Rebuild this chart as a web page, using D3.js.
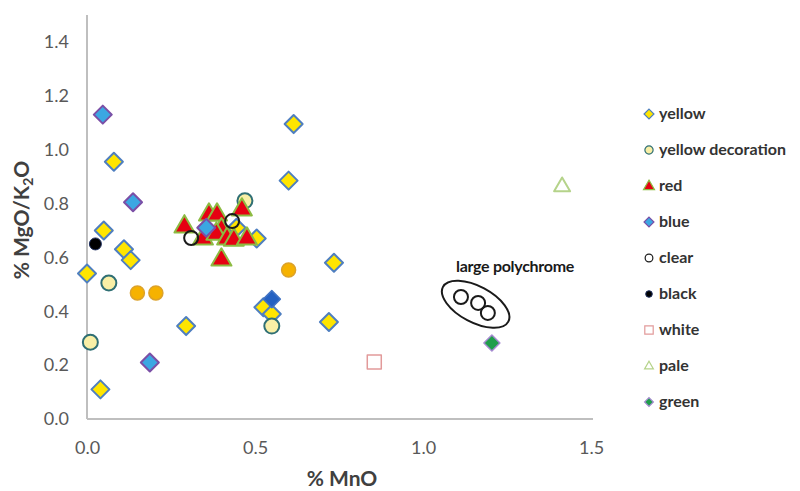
<!DOCTYPE html>
<html>
<head>
<meta charset="utf-8">
<script src="https://cdn.jsdelivr.net/npm/d3@7/dist/d3.min.js"></script>
<style>
  html, body { margin: 0; padding: 0; background: #fff; }
  svg { display: block; }
</style>
</head>
<body>
<svg id="chart" width="800" height="491"></svg>
<script>
// Glass composition: MgO/K2O ratio against MnO content, grouped by colour
const yellow = [
  [0.04, 0.11], [0.00, 0.54], [0.11, 0.63], [0.13, 0.59], [0.05, 0.70],
  [0.08, 0.955], [0.295, 0.345], [0.615, 1.095], [0.60, 0.885], [0.735, 0.58],
  [0.72, 0.36], [0.525, 0.415], [0.55, 0.39], [0.505, 0.67], [0.445, 0.71]
];
const yellowDecoration = [
  [0.01, 0.285], [0.065, 0.505], [0.55, 0.345], [0.47, 0.81]
];
const orange = [
  [0.15, 0.468], [0.205, 0.468], [0.60, 0.553]
];
const red = [
  [0.29, 0.717], [0.345, 0.672], [0.363, 0.761], [0.387, 0.761], [0.40, 0.706],
  [0.385, 0.69], [0.417, 0.672], [0.437, 0.668], [0.476, 0.672], [0.461, 0.78],
  [0.40, 0.594]
];
const blue = [
  [0.047, 1.13], [0.137, 0.805], [0.187, 0.21], [0.355, 0.71]
];
const blueDark = [
  [0.55, 0.445]
];
const clear = [
  [0.31, 0.672], [0.432, 0.735], [1.113, 0.453], [1.164, 0.431], [1.193, 0.394]
];
const black = [[0.025, 0.65]];
const white = [[0.855, 0.212]];
const pale = [[1.414, 0.865]];
const green = [[1.205, 0.282]];

const xTicks = [0.0, 0.5, 1.0, 1.5];
const yTicks = [0.0, 0.2, 0.4, 0.6, 0.8, 1.0, 1.2, 1.4];

// marker shapes, centred on 0,0
function shapePath(shape, s) {
  if (shape === "diamond") return `M0,${-s}L${s},0L0,${s}L${-s},0Z`;
  if (shape === "triangle") {
    const h = s * 1.732;
    return `M0,${-h * 0.62}L${s},${h * 0.38}L${-s},${h * 0.38}Z`;
  }
  if (shape === "square") return `M${-s},${-s}H${s}V${s}H${-s}Z`;
  return `M${s},0A${s},${s} 0 1,1 ${-s},0A${s},${s} 0 1,1 ${s},0Z`;
}

const series = [
  { name: "yellow", data: yellow, shape: "diamond", size: 9, fill: "#ffe500", stroke: "#4f7fc0", sw: 2, legend: true },
  { name: "yellow decoration", data: yellowDecoration, shape: "circle", size: 7.5, fill: "#f9efa6", stroke: "#2f6f74", sw: 2, legend: true },
  { name: "orange", data: orange, shape: "circle", size: 7, fill: "#f6b200", stroke: "#dca22a", sw: 1.5, legend: false },
  { name: "red", data: red, shape: "triangle", size: 10, fill: "#e60012", stroke: "#8dbb42", sw: 2, legend: true },
  { name: "blue", data: blue, shape: "diamond", size: 9, fill: "#3ba7e2", stroke: "#7b4fa6", sw: 2, legend: true },
  { name: "blue2", data: blueDark, shape: "diamond", size: 8.5, fill: "#2461c2", stroke: "#3f72c4", sw: 1.5, legend: false },
  { name: "clear", data: clear, shape: "circle", size: 7, fill: "none", stroke: "#1a1a1a", sw: 2, legend: true },
  { name: "black", data: black, shape: "circle", size: 6, fill: "#000", stroke: "#203060", sw: 1, legend: true },
  { name: "white", data: white, shape: "square", size: 7, fill: "none", stroke: "#e29a9a", sw: 1.5, legend: true },
  { name: "pale", data: pale, shape: "triangle", size: 8, fill: "none", stroke: "#b5d38a", sw: 2, legend: true },
  { name: "green", data: green, shape: "diamond", size: 8, fill: "#1f9e4a", stroke: "#a58ad0", sw: 1.5, legend: true }
];

const svg = d3.select("#chart");
const x = d3.scaleLinear().domain([0, 1.5]).range([87, 591]);
const y = d3.scaleLinear().domain([0, 1.5]).range([419, 15]);

const axisColor = "#bfbfbf";
const tickColor = "#595959";
const tickFont = "Lato, 'Open Sans', sans-serif";

// axes: plain lines, no tick marks, grey labels
const xAxis = svg.append("g").attr("transform", `translate(0,${y(0)})`)
  .call(d3.axisBottom(x).tickValues(xTicks).tickFormat(d3.format(".1f")).tickSize(0).tickPadding(22));
const yAxis = svg.append("g").attr("transform", `translate(${x(0)},0)`)
  .call(d3.axisLeft(y).tickValues(yTicks).tickFormat(d3.format(".1f")).tickSize(0).tickPadding(18));
[xAxis, yAxis].forEach(g => {
  g.select(".domain").attr("stroke", axisColor).attr("stroke-width", 2);
  g.selectAll("text").attr("fill", tickColor).attr("font-family", tickFont).attr("font-size", 18);
});
xAxis.select(".domain").attr("d", `M${x(0)},0H${x(1.5) + 2}`);
yAxis.select(".domain").attr("d", `M0,${y(0)}V${y(1.5)}`);

// axis titles
svg.append("text")
  .attr("x", 342).attr("y", 486)
  .attr("text-anchor", "middle")
  .attr("font-family", tickFont).attr("font-weight", "bold").attr("font-size", 21)
  .attr("fill", "#404040")
  .text("% MnO");

const yTitle = svg.append("text")
  .attr("transform", "translate(29,220) rotate(-90)")
  .attr("text-anchor", "middle")
  .attr("font-family", tickFont).attr("font-weight", "bold").attr("font-size", 21)
  .attr("fill", "#404040");
yTitle.append("tspan").text("% MgO/K");
yTitle.append("tspan").attr("font-size", 14).attr("dy", 4).text("2");
yTitle.append("tspan").attr("dy", -4).text("O");

// points
const plot = svg.append("g");
series.forEach(s => {
  plot.append("g").selectAll("path").data(s.data).join("path")
    .attr("transform", d => `translate(${x(d[0])},${y(d[1])})`)
    .attr("d", shapePath(s.shape, s.size))
    .attr("fill", s.fill)
    .attr("stroke", s.stroke)
    .attr("stroke-width", s.sw)
    .attr("stroke-linejoin", "round");
});

// annotation: ring round the large polychrome group
const cx = d3.mean(clear.slice(2), d => x(d[0]));
const cy = d3.mean(clear.slice(2), d => y(d[1]));
svg.append("ellipse")
  .attr("transform", `translate(${cx},${cy}) rotate(28)`)
  .attr("rx", 37).attr("ry", 18)
  .attr("fill", "none").attr("stroke", "#1a1a1a").attr("stroke-width", 2);
svg.append("text")
  .attr("x", 515).attr("y", 272)
  .attr("text-anchor", "middle")
  .attr("font-family", tickFont).attr("font-weight", "bold").attr("font-size", 16)
  .attr("letter-spacing", -0.3)
  .attr("fill", "#1a1a1a")
  .text("large polychrome");

// legend
const legendItems = series.filter(s => s.legend);
const lg = svg.append("g").attr("transform", "translate(649,114)");
legendItems.forEach((s, i) => {
  const row = lg.append("g").attr("transform", `translate(0,${i * 36})`);
  const k = s.shape === "square" ? 0.6 : 0.55;
  row.append("path")
    .attr("d", shapePath(s.shape, s.size * k))
    .attr("fill", s.fill)
    .attr("stroke", s.stroke)
    .attr("stroke-width", Math.min(s.sw, 1.2));
  row.append("text")
    .attr("x", 10).attr("y", 5)
    .attr("font-family", tickFont).attr("font-weight", "bold").attr("font-size", 16)
    .attr("fill", "#333")
    .text(s.name);
});
</script>
</body>
</html>
